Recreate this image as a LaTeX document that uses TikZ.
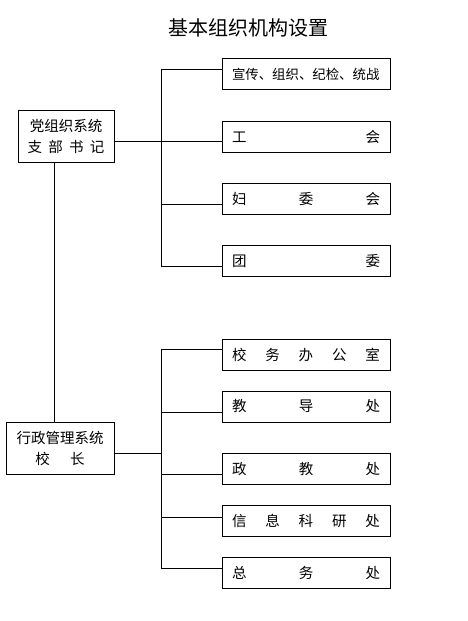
\documentclass[tikz,border=0pt]{standalone}
\usepackage{fontspec}
\setmainfont{Noto Sans CJK SC}
\usetikzlibrary{positioning}
\tikzstyle{jigou} = [draw, line width=0.8pt, rectangle, minimum width=168pt, minimum height=31pt, inner sep=0pt, text width=148pt, font=\fontsize{14.5}{17}\selectfont]
\tikzstyle{lingdao} = [draw, line width=0.8pt, rectangle, minimum height=52pt, inner sep=0pt, align=center, font=\fontsize{14.5}{21}\selectfont]
\tikzstyle{xian} = [line width=0.8pt]

\begin{document}
\begin{tikzpicture}[x=1pt,y=1pt]
	\useasboundingbox (0,0) rectangle (468,-621);
	\node[font=\fontsize{20}{24}\selectfont] (biaoti) at (248,-28) {基本组织机构设置};
	% dang zhibu
	\node[lingdao, minimum width=96pt] (dang) at (66,-136) {党组织系统\\\makebox[77pt]{支\hfill 部\hfill 书\hfill 记}};
	\node[jigou, font=\fontsize{13.4}{16}\selectfont] (xuanchuan) at (306,-74) {宣传、组织、纪检、统战};
	\node[jigou] (gonghui) at (306,-137) {工\hfill 会};
	\node[jigou] (fuwei) at (306,-198.5) {妇\hfill 委\hfill 会};
	\node[jigou] (tuanwei) at (306,-261) {团\hfill 委};
	% xingzheng
	\node[lingdao, minimum width=108pt] (xingzheng) at (60,-448) {行政管理系统\\校\hspace{1.4em}长};
	\node[jigou] (xiaowu) at (306,-354.5) {校\hfill 务\hfill 办\hfill 公\hfill 室};
	\node[jigou] (jiaodao) at (306,-406.5) {教\hfill 导\hfill 处};
	\node[jigou] (zhengjiao) at (306,-469) {政\hfill 教\hfill 处};
	\node[jigou] (xinxi) at (306,-521) {信\hfill 息\hfill 科\hfill 研\hfill 处};
	\node[jigou] (zongwu) at (306,-573) {总\hfill 务\hfill 处};

	\draw[xian] ([xshift=-12pt]dang.south) -- ([xshift=-12pt]dang.south |- xingzheng.north);
	\draw[xian] ([yshift=-5pt]dang.east) -- ([yshift=-4pt]gonghui.west);
	\draw[xian] ([yshift=5pt]xuanchuan.west) -- ++(-60,0) |- ([yshift=-5pt]tuanwei.west);
	\draw[xian] ([yshift=-5.5pt]fuwei.west) -- ++(-60,0);
	\draw[xian] ([yshift=5.5pt]xiaowu.west) -- ++(-60,0) |- ([yshift=5pt]zongwu.west);
	\draw[xian] ([yshift=-5.5pt]jiaodao.west) -- ++(-60,0);
	\draw[xian] ([yshift=-5pt]xingzheng.east) -- ++(48,0);
	\draw[xian] ([yshift=-5pt]zhengjiao.west) -- ++(-60,0);
	\draw[xian] ([yshift=4pt]xinxi.west) -- ++(-60,0);
\end{tikzpicture}
\end{document}
